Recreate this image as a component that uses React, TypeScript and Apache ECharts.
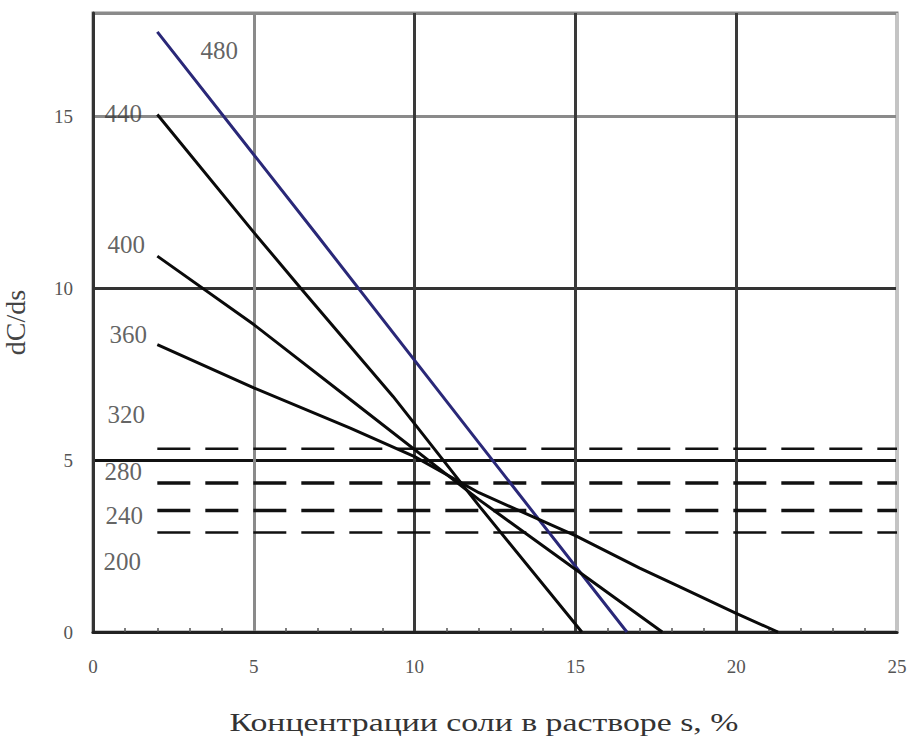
import React, { useEffect, useRef } from "react";
import * as echarts from "echarts";

// ---- data ----
const xTicks = [0, 5, 10, 15, 20, 25];
const yTicks = [0, 5, 10, 15];
const xTitle = "Концентрации соли в растворе s, %";
const yTitle = "dC/ds";

const curveNames = ["480", "440", "400", "360"];
const s480 = [[2, 17.45], [7, 11.5], [12, 5.5], [16.6, 0]];
const s440 = [[2, 15.05], [5, 11.62], [6.44, 10.02], [9.33, 6.85], [12.03, 3.64], [15.2, 0]];
const s400 = [[2, 10.93], [5, 8.94], [8, 6.76], [12, 3.85], [17.7, 0]];
const s360 = [[2, 8.36], [5, 7.1], [8, 5.93], [10, 5.1], [12, 4.05], [15, 2.8], [17, 1.86], [18.25, 1.31], [20, 0.54], [21.3, 0]];

const levelNames = ["320", "280", "240", "200"];
const levelValues = [5.33, 4.33, 3.53, 2.89];
const levelStart = 2;
const levelEnd = 25;

const FONT = "'Liberation Serif', 'Times New Roman', serif";

export default function App() {
  const ref = useRef<HTMLDivElement>(null);

  useEffect(() => {
    document.body.style.margin = "0";
    if (!ref.current) return;
    const chart = echarts.init(ref.current, undefined, { renderer: "svg" });

    const curves = [s480, s440, s400, s360];
    const curveColors = ["#2a2878", "#0a0a0a", "#0a0a0a", "#0a0a0a"];
    const levelWidths = [2.5, 3.5, 3.5, 2.5];
    const curveLabelOffsets = [[62, 19], [-34, -1], [-31, -12], [-29, -10]];
    const levelLabelOffsets = [[-31, -34], [-34, -12], [-33, 5], [-35, 29]];

    const curveSeries = curves.map((d, i) => ({
      type: "line",
      name: curveNames[i],
      data: d,
      showSymbol: false,
      symbol: "none",
      smooth: false,
      lineStyle: { color: curveColors[i], width: 3 },
      z: 5,
    }));

    const levelSeries = levelValues.map((v, i) => ({
      type: "line",
      name: levelNames[i],
      data: [[levelStart, v], [levelEnd, v]],
      showSymbol: false,
      symbol: "none",
      lineStyle: { color: "#111", width: levelWidths[i], type: [33, 15] },
      z: 4,
    }));

    const labelData = [
      ...curves.map((d, i) => ({
        name: curveNames[i],
        value: d[0],
        label: { offset: curveLabelOffsets[i] },
      })),
      ...levelValues.map((v, i) => ({
        name: levelNames[i],
        value: [levelStart, v],
        label: { offset: levelLabelOffsets[i] },
      })),
    ];

    chart.setOption({
      animation: false,
      backgroundColor: "#ffffff",
      grid: {
        left: 93,
        right: 10,
        top: 13,
        bottom: 106,
        outerBoundsMode: "none",
        containLabel: false,
        show: true,
        borderColor: "#8a8a8a",
        borderWidth: 3,
      },
      xAxis: {
        type: "value",
        min: 0,
        max: 25,
        interval: 5,
        axisLine: { show: true, onZero: false, lineStyle: { color: "#222", width: 3 } },
        axisTick: { show: false, inside: true },
        minorTick: { show: true, splitNumber: 5, length: 4, lineStyle: { color: "#555", width: 1.5 } },
        axisLabel: {
          color: "#555",
          fontSize: 19,
          fontFamily: FONT,
          margin: 25,
          formatter: (v: number) => (xTicks.includes(v) ? String(v) : ""),
        },
        splitLine: {
          show: true,
          lineStyle: {
            color: ["#333", "#8a8a8a", "#3a3a3a", "#3a3a3a", "#3a3a3a", "#c4c4c4"],
            width: 3,
          },
        },
      },
      yAxis: {
        type: "value",
        min: 0,
        max: 18,
        interval: 5,
        name: yTitle,
        nameLocation: "middle",
        nameGap: 64,
        nameRotate: 90,
        nameTextStyle: { color: "#444", fontSize: 28, fontFamily: FONT },
        axisLine: { show: true, onZero: false, lineStyle: { color: "#333", width: 3 } },
        axisTick: { show: false },
        axisLabel: {
          color: "#555",
          fontSize: 19,
          fontFamily: FONT,
          margin: 20,
          formatter: (v: number) => (yTicks.includes(v) ? String(v) : ""),
        },
        splitLine: {
          show: true,
          lineStyle: {
            color: ["#333", "#111", "#333", "#8a8a8a", "#8a8a8a"],
            width: 3,
          },
        },
      },
      graphic: [
        {
          type: "text",
          x: 484,
          y: 722,
          scaleX: 1.3,
          style: {
            text: xTitle,
            fill: "#333",
            font: `26px ${FONT}`,
            textAlign: "center",
            textVerticalAlign: "middle",
          },
        },
      ],
      series: [
        ...levelSeries,
        ...curveSeries,
        {
          type: "scatter",
          name: "labels",
          data: labelData,
          symbolSize: 1,
          itemStyle: { color: "rgba(0,0,0,0)" },
          silent: true,
          z: 6,
          label: {
            show: true,
            position: "inside",
            formatter: "{b}",
            color: "#3a3a3a",
            fontSize: 25,
            fontFamily: FONT,
          },
        },
      ],
    } as any);

    return () => chart.dispose();
  }, []);

  return <div ref={ref} style={{ width: 907, height: 738 }} />;
}
